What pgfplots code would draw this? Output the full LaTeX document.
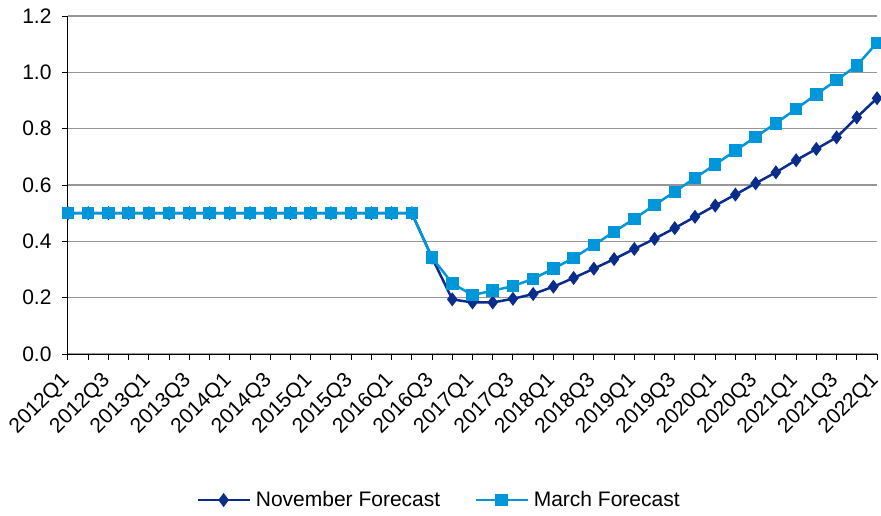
\documentclass[border=0pt]{standalone}
\usepackage{pgfplots}
\pgfplotsset{compat=1.18}
\usepackage{fontspec}
\setmainfont{Liberation Sans}
\definecolor{nov}{RGB}{10,45,140}
\definecolor{mar}{RGB}{0,150,218}
\definecolor{gridc}{RGB}{150,150,150}
\begin{document}
\begin{tikzpicture}
\useasboundingbox (-68pt,-161pt) rectangle (813pt,354pt);
\begin{axis}[
  at={(0pt,0pt)}, anchor=south west,
  scale only axis, width=809pt, height=338pt,
  xmin=0, xmax=40, ymin=0, ymax=1.2,
  clip=false,
  axis x line*=bottom, axis y line*=left,
  axis line style={-, black, line width=1pt},
  ytick={0,0.2,0.4,0.6,0.8,1.0,1.2},
  yticklabel style={xshift=-7pt, /pgf/number format/fixed, /pgf/number format/fixed zerofill, /pgf/number format/precision=1},
  xtick={0,2,...,40},
  minor xtick={1,3,...,39},
  xticklabels={2012Q1,2012Q3,2013Q1,2013Q3,2014Q1,2014Q3,2015Q1,2015Q3,2016Q1,2016Q3,2017Q1,2017Q3,2018Q1,2018Q3,2019Q1,2019Q3,2020Q1,2020Q3,2021Q1,2021Q3,2022Q1},
  xticklabel style={xshift=0pt, yshift=-16pt, rotate=45, anchor=east, inner sep=2pt},
  tick align=outside,
  major tick length=6pt, minor tick length=6pt,
  every tick/.style={black, line width=1pt},
  ymajorgrids, major grid style={gridc, line width=1.5pt},
  tick label style={font=\fontsize{21}{24}\selectfont},
  /pgf/number format/assume math mode=true,
  legend style={at={(0.4586,-0.432)}, anchor=center, draw=none,
    font=\fontsize{21}{24}\selectfont,
    /tikz/every odd column/.append style={column sep=3pt},
    /tikz/every even column/.append style={column sep=32pt}},
  legend columns=2,
  legend cell align=left,
  legend image code/.code={\draw[mark repeat=2, mark phase=2] plot coordinates {(0pt,0pt) (26pt,0pt) (52pt,0pt)};},
]
\addplot[nov, line width=2.5pt, mark=diamond*, mark size=5pt, mark options={solid, fill=nov}] coordinates {
(0,0.5)(1,0.5)(2,0.5)(3,0.5)(4,0.5)(5,0.5)(6,0.5)(7,0.5)(8,0.5)(9,0.5)
(10,0.5)(11,0.5)(12,0.5)(13,0.5)(14,0.5)(15,0.5)(16,0.5)(17,0.5)
(18,0.342)(19,0.194)(20,0.183)(21,0.183)(22,0.196)(23,0.213)(24,0.239)
(25,0.270)(26,0.303)(27,0.337)(28,0.373)(29,0.409)(30,0.447)(31,0.487)
(32,0.527)(33,0.566)(34,0.606)(35,0.645)(36,0.688)(37,0.728)(38,0.769)
(39,0.840)(40,0.908)};
\addlegendentry{November Forecast}
\addplot[mar, line width=2.5pt, mark=square*, mark size=5pt, mark options={solid, fill=mar}] coordinates {
(0,0.5)(1,0.5)(2,0.5)(3,0.5)(4,0.5)(5,0.5)(6,0.5)(7,0.5)(8,0.5)(9,0.5)
(10,0.5)(11,0.5)(12,0.5)(13,0.5)(14,0.5)(15,0.5)(16,0.5)(17,0.5)
(18,0.342)(19,0.251)(20,0.209)(21,0.225)(22,0.241)(23,0.267)(24,0.303)
(25,0.341)(26,0.387)(27,0.434)(28,0.480)(29,0.529)(30,0.576)(31,0.625)
(32,0.673)(33,0.722)(34,0.771)(35,0.819)(36,0.870)(37,0.922)(38,0.972)
(39,1.024)(40,1.105)};
\addlegendentry{March Forecast}
\end{axis}
\end{tikzpicture}
\end{document}
